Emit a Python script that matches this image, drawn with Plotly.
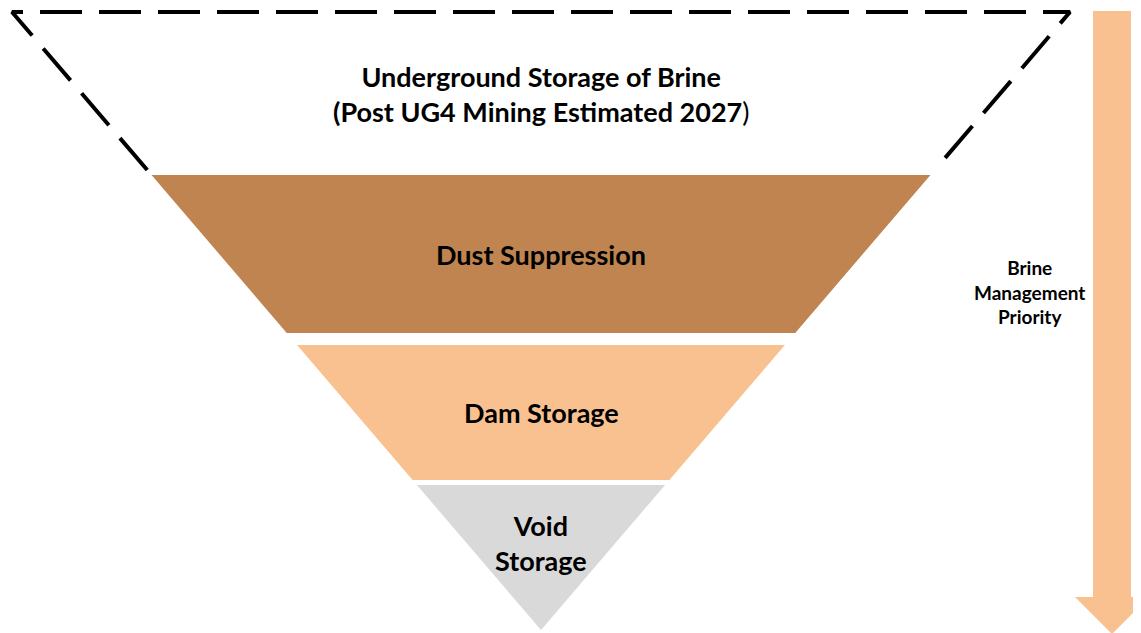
import plotly.graph_objects as go

# ---- data ----
levels = ["Underground Storage of Brine", "Dust Suppression", "Dam Storage", "Void Storage"]
level_labels = ["<b>Underground Storage of Brine</b><br><b>(Post UG4 Mining Estimated 2027</b>)",
                "<b>Dust Suppression</b>", "<b>Dam Storage</b>", "<b>Void<br>Storage</b>"]
band_top = [12, 175, 345, 485]      # depth of the top of each band
band_bottom = [170, 333, 480, 630]  # depth of the bottom of each band
fill_colors = [None, "#BF8450", "#F9C190", "#D9D9D9"]
arrow_label = "<b>Brine<br>Management<br>Priority</b>"

# ---- geometry of the inverted pyramid ----
W, H = 1141, 633
OFF = 8  # page body margin compensation
apex_x, apex_y = 541, 630
slope = 529 / 618  # half-width per unit of height


def half_width(y):
    return (apex_y - y) * slope


fig = go.Figure()

for i, name in enumerate(levels):
    t, b = band_top[i], band_bottom[i]
    xl_t, xr_t = apex_x - half_width(t), apex_x + half_width(t)
    xl_b, xr_b = apex_x - half_width(b), apex_x + half_width(b)
    if fill_colors[i] is None:
        # dashed outline (no bottom edge)
        fig.add_trace(go.Scatter(
            x=[xl_b, xl_t, xr_t, xr_b], y=[b, t, t, b], mode="lines",
            line=dict(color="black", width=4, dash="42px,17px"),
            hoverinfo="skip", showlegend=False, name=name))
    else:
        fig.add_trace(go.Scatter(
            x=[xl_t, xr_t, xr_b, xl_b, xl_t], y=[t, t, b, b, t], mode="lines",
            fill="toself", fillcolor=fill_colors[i], line=dict(width=0, color=fill_colors[i]),
            hoverinfo="skip", showlegend=False, name=name))

# label positions
label_y = [94, 254, 412, 543]
for lab, ly in zip(level_labels, label_y):
    fig.add_annotation(x=apex_x, y=ly, text=lab, showarrow=False,
                       font=dict(family="Lato", size=27, color="black"),
                       xanchor="center", yanchor="middle", align="center")

# priority arrow
shaft_l, shaft_r, shaft_top, head_y = 1093, 1131, 11, 597
head_l, head_r, tip_y = 1075, 1149, 634
cx = (shaft_l + shaft_r) / 2
fig.add_trace(go.Scatter(
    x=[shaft_l, shaft_r, shaft_r, head_r, cx, head_l, shaft_l, shaft_l],
    y=[shaft_top, shaft_top, head_y, head_y, tip_y, head_y, head_y, shaft_top],
    mode="lines", fill="toself", fillcolor="#F9C190", line=dict(width=0, color="#F9C190"),
    hoverinfo="skip", showlegend=False))

fig.add_annotation(x=1029, y=292, text=arrow_label, showarrow=False,
                   font=dict(family="Lato", size=19, color="black"),
                   xanchor="center", yanchor="middle", align="center")

fig.update_layout(
    width=W - OFF, height=H - OFF, margin=dict(l=0, r=0, t=0, b=0),
    paper_bgcolor="white", plot_bgcolor="white",
    xaxis=dict(range=[OFF, W], visible=False, fixedrange=True),
    yaxis=dict(range=[H, OFF], visible=False, fixedrange=True),
)

fig.write_html("out.html")
